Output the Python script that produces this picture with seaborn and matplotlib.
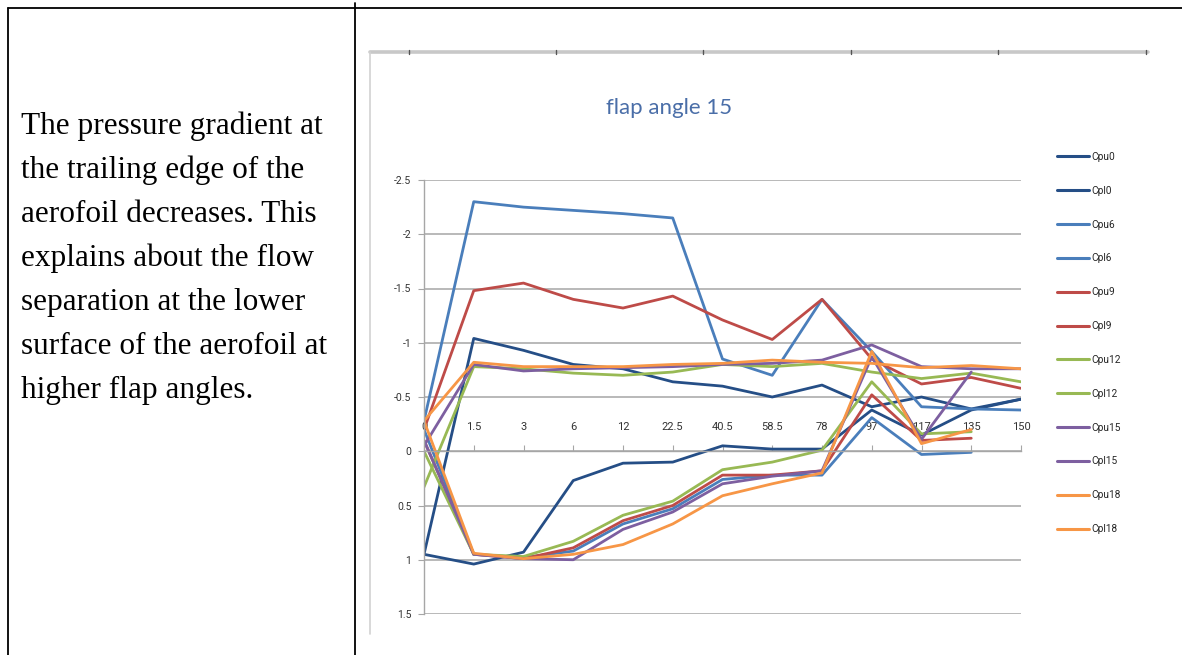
import numpy as np
import pandas as pd
import matplotlib
matplotlib.use("Agg")
import matplotlib.pyplot as plt
from matplotlib.lines import Line2D
import seaborn as sns

# ---------------- data ----------------
x_labels = ["0", "1.5", "3", "6", "12", "22.5", "40.5", "58.5", "78", "97", "117", "135", "150"]
y_ticks = [-2.5, -2, -1.5, -1, -0.5, 0, 0.5, 1, 1.5]
y_tick_labels = ["-2.5", "-2", "-1.5", "-1", "-0.5", "0", "0.5", "1", "1.5"]
nan = np.nan

cpu0 = [0.95, -1.04, -0.93, -0.80, -0.76, -0.64, -0.60, -0.50, -0.61, -0.41, -0.50, -0.39, -0.48]
cpl0 = [0.95, 1.04, 0.93, 0.27, 0.11, 0.10, -0.05, -0.02, -0.02, -0.38, -0.15, -0.38, -0.48]
cpu6 = [-0.28, -2.30, -2.25, -2.22, -2.19, -2.15, -0.85, -0.70, -1.40, -0.92, -0.41, -0.39, -0.38]
cpl6 = [-0.20, 0.95, 0.98, 0.92, 0.67, 0.53, 0.26, 0.22, 0.22, -0.31, 0.03, 0.01, nan]
cpu9 = [-0.20, -1.48, -1.55, -1.40, -1.32, -1.43, -1.21, -1.03, -1.40, -0.85, -0.62, -0.68, -0.58]
cpl9 = [-0.10, 0.95, 0.99, 0.89, 0.64, 0.50, 0.22, 0.22, 0.18, -0.52, -0.10, -0.12, nan]
cpu12 = [0.33, -0.78, -0.76, -0.72, -0.70, -0.73, -0.80, -0.78, -0.81, -0.73, -0.67, -0.72, -0.64]
cpl12 = [0.00, 0.95, 0.97, 0.83, 0.59, 0.46, 0.17, 0.10, -0.01, -0.64, -0.16, -0.18, nan]
cpu15 = [-0.05, -0.80, -0.74, -0.76, -0.77, -0.78, -0.80, -0.81, -0.84, -0.98, -0.78, -0.76, -0.76]
cpl15 = [-0.10, 0.95, 0.99, 1.00, 0.72, 0.56, 0.30, 0.23, 0.18, -0.87, -0.11, -0.73, nan]
cpu18 = [-0.28, -0.82, -0.78, -0.78, -0.78, -0.80, -0.81, -0.84, -0.82, -0.81, -0.77, -0.79, -0.76]
cpl18 = [-0.28, 0.94, 0.99, 0.95, 0.86, 0.67, 0.41, 0.30, 0.20, -0.92, -0.07, -0.20, nan]

series_names = ["Cpu0", "Cpl0", "Cpu6", "Cpl6", "Cpu9", "Cpl9",
                "Cpu12", "Cpl12", "Cpu15", "Cpl15", "Cpu18", "Cpl18"]
series_values = [cpu0, cpl0, cpu6, cpl6, cpu9, cpl9, cpu12, cpl12, cpu15, cpl15, cpu18, cpl18]
series_colors = ["#254E86", "#254E86", "#4A7EBB", "#4A7EBB", "#BE4B48", "#BE4B48",
                 "#98B954", "#98B954", "#7D5FA0", "#7D5FA0", "#F79646", "#F79646"]

title_text = "flap angle 15"
body_lines = ["The pressure gradient at",
              "the trailing edge of the",
              "aerofoil decreases. This",
              "explains about the flow",
              "separation at the lower",
              "surface of the aerofoil at",
              "higher flap angles."]

# ---------------- build table ----------------
rows = []
for name, vals in zip(series_names, series_values):
    for i, v in enumerate(vals):
        rows.append({"pos": i, "cp": v, "series": name})
df = pd.DataFrame(rows).dropna()

sns.set_style("white")
plt.rcParams["font.family"] = ["Roboto", "DejaVu Sans"]

W, H = 1182, 655
fig = plt.figure(figsize=(W / 100, H / 100), dpi=100)
fig.patch.set_facecolor("white")

def px_line(x0, y0, x1, y1, **kw):
    fig.add_artist(Line2D([x0 / W, x1 / W], [1 - y0 / H, 1 - y1 / H],
                          transform=fig.transFigure, **kw))

# table borders
px_line(8, 8, W, 8, color="black", lw=1.3)
px_line(8, 8, 8, H, color="black", lw=1.3)
px_line(355, 3, 355, H, color="black", lw=1.3)
# chart frame (partially visible)
px_line(370, 52, 1148, 52, color="#C8C8C8", lw=2.6)
px_line(370, 52, 370, 634, color="#D2D2D2", lw=1.2)
for tx in [409, 556, 703, 851, 998, 1146]:
    px_line(tx, 50, tx, 54, color="#555555", lw=1.0)

# left text
for i, t in enumerate(body_lines):
    fig.text(21 / W, 1 - (134 + 44 * i) / H, t, family=["Liberation Serif"],
             fontsize=22.5, va="baseline", ha="left", color="black")

# plot area
ax = fig.add_axes([424 / W, 1 - 614 / H, (1021 - 424) / W, (614 - 180) / H])
palette = dict(zip(series_names, series_colors))
sns.lineplot(data=df, x="pos", y="cp", hue="series", hue_order=series_names,
             palette=palette, estimator=None, sort=False, linewidth=2.0,
             ax=ax, legend=True)

ax.set_xlim(0, len(x_labels) - 1)
ax.set_ylim(1.5, -2.5)
ax.set_yticks(y_ticks)
ax.set_yticklabels(y_tick_labels)
ax.set_xticks(np.arange(len(x_labels)))
ax.set_xticklabels(x_labels)
ax.set_xlabel("")
ax.set_ylabel("")
ax.xaxis.set_ticks_position("top")
ax.spines["top"].set_position(("data", 0))
ax.spines["bottom"].set_visible(False)
ax.spines["right"].set_visible(False)
for s in ["top", "left"]:
    ax.spines[s].set_color("#A6A6A6")
    ax.spines[s].set_linewidth(1.0)
ax.grid(axis="y", color="#A6A6A6", lw=1.1)
ax.grid(axis="x", visible=False)
ax.set_axisbelow(True)
ax.tick_params(axis="x", direction="out", length=4, width=0.8, color="#A6A6A6",
               pad=10, labelsize=8, labelcolor="#333333", top=True, bottom=False)
ax.tick_params(axis="y", direction="out", length=4, width=0.8, color="#A6A6A6",
               pad=5, labelsize=7.5, labelcolor="#333333", left=True)
ax.set_facecolor("none")

leg = ax.get_legend()
handles = list(leg.legend_handles)
labels = [t.get_text() for t in leg.get_texts()]
leg.remove()
for h in handles:
    h.set_linewidth(2.2)
fig.legend(handles, labels, loc="upper left", bbox_to_anchor=(1057 / W, 1 - 152 / H),
           frameon=False, fontsize=7.3, handlelength=3.2, handletextpad=0.2,
           labelspacing=2.35, borderaxespad=0, borderpad=0)

fig.text(669 / W, 1 - 108 / H, title_text, ha="center", va="center",
         color="#4A6EA8", fontsize=16, family=["Lato", "DejaVu Sans"])

fig.savefig("out.png", dpi=100)
